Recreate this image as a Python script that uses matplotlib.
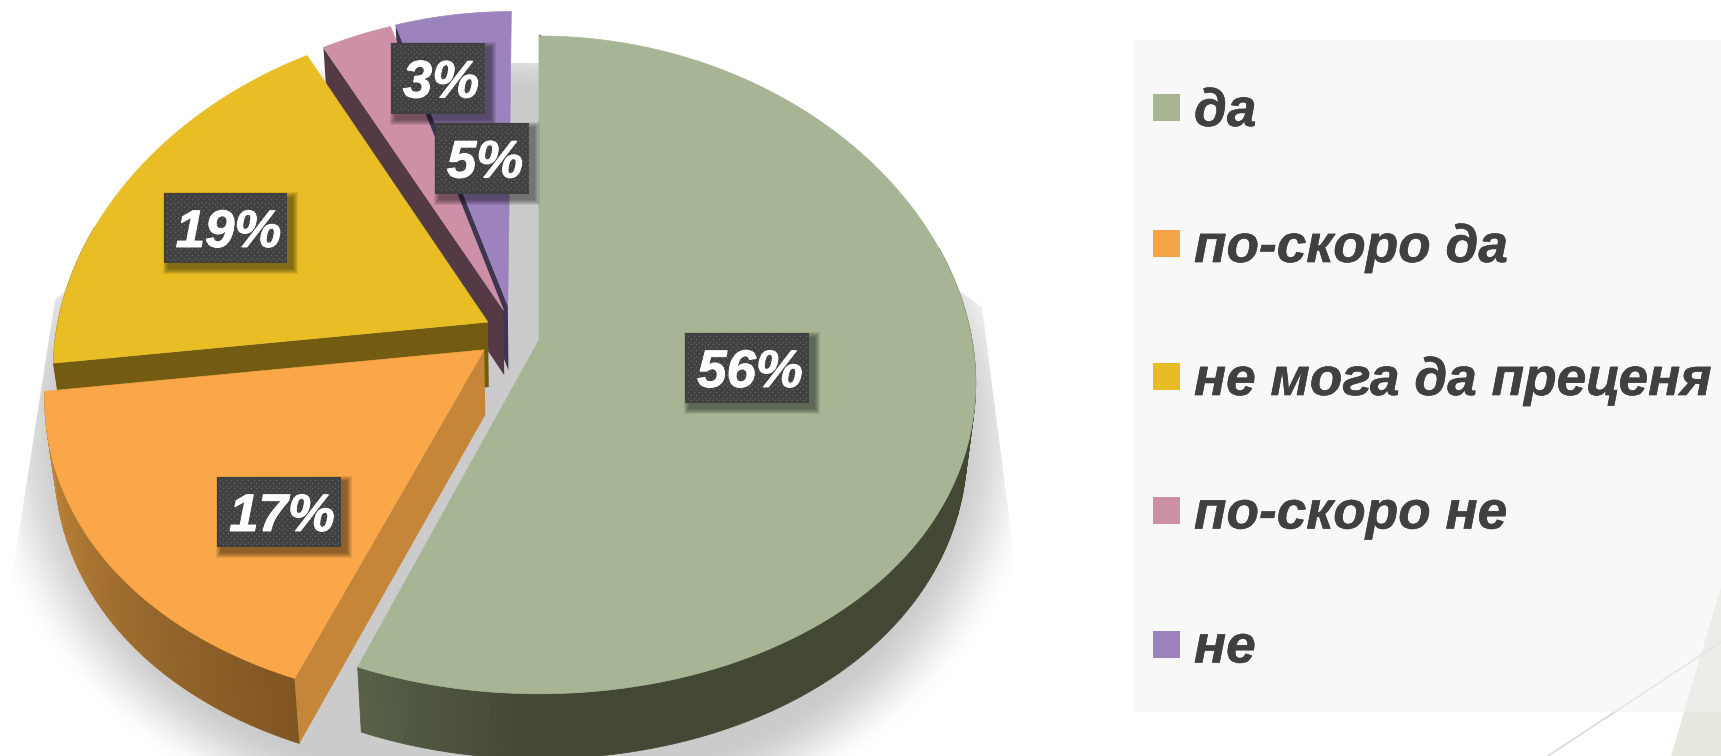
import matplotlib
matplotlib.use('Agg')
import matplotlib.pyplot as plt
import matplotlib.patheffects as pe
from matplotlib.colors import to_rgb
from matplotlib.patches import Polygon, Rectangle
import numpy as np

categories = ['да', 'по-скоро да', 'не мога да преценя', 'по-скоро не', 'не']
values = [56, 17, 19, 3, 5]

top_colors = ['#A7B595', '#F9A748', '#E9BE25', '#CE90A7', '#9D83BE']
legend_colors = ['#A7B592', '#F3A446', '#E8BC24', '#CC8FA5', '#9C82BD']
side_colors = ['#3F4433', '#C5863A', '#735C12', '#533A44', '#3E3550']
# wall colour goes from the wedge's first edge to its last edge
wall_stops = [
    ([0, 0.9, 1], ['#434835', '#434835', '#596149']),
    ([0, 1], ['#7F5522', '#C48A3C']),
    ([0, 1], ['#735C12', '#735C12']),
    ([0, 1], ['#533A44', '#533A44']),
    ([0, 1], ['#3E3550', '#3E3550']),
]
# how far each wedge is pulled out of the pie, and its size
explode = [(0, 0), (-0.126, -0.03), (-0.119, 0.055), (-0.083, 0.092), (-0.073, 0.107)]
radius = [1, 1, 1, 0.99, 0.98]
draw_order = [4, 3, 2, 1, 0]
# label boxes: left, top, right, bottom in pixels
label_boxes = [(685, 333, 809, 403), (217, 477, 341, 547), (164, 193, 287, 263),
               (391, 43, 485, 114), (435, 123, 529, 194)]
legend_y = [107.5, 243.5, 376.5, 510, 644]

W, H = 1721, 756
CX, CY = 539, 340
RX, RY = 433, 327
KX, KY = 0.13, 0.0757
DEPTH = 65
FONT = 'Liberation Sans'


def project(u, v):
    return CX + u * RX / (1 + KX * v), CY - v * RY / (1 + KY * v)


def drop(x, y):
    # the same point on the underside of the pie
    return CX + (x - CX) * 0.98, y + DEPTH


fig = plt.figure(figsize=(W / 100, H / 100), dpi=100, facecolor='white')
ax = fig.add_axes([0, 0, 1, 1])

# background decoration, bottom right
ax.fill([1721, 1671, 1721], [587, 756, 756], color='#E6E8E0', lw=0, zorder=1)
ax.plot([1721, 1548], [642, 756], color='#DADADA', lw=1.2, zorder=1)
ax.add_patch(Rectangle((1134, 40), W - 1134, 672, facecolor='#F3F3F3', alpha=0.5, lw=0, zorder=2))

# soft shadow under the pie, cut by a hard edged frame
yy, xx = np.mgrid[0:H, 0:1100]
r = np.hypot((xx - 510) / 510, (yy - 440) / 400)
fade = np.clip((1.05 - r) / 0.18, 0, 1)
fade = fade * fade * (3 - 2 * fade)
shadow = np.zeros((H, 1100, 4))
shadow[..., :3] = to_rgb('#CBCBCB')
shadow[..., 3] = fade
img = ax.imshow(shadow, extent=(0, 1100, H, 0), aspect='auto', zorder=3, interpolation='bilinear')
frame = Polygon([(330, 63), (640, 63), (982, 307), (1012, 540), (1012, H), (10, H), (10, 590), (55, 300)],
                transform=ax.transData, fc='none', lw=0)
ax.add_patch(frame)
img.set_clip_path(frame)

# wedges, clockwise from the top
edges = np.cumsum([0] + values) / sum(values) * 2 * np.pi
for z, i in enumerate(draw_order):
    a0, a1 = edges[i], edges[i + 1]
    du, dv = explode[i]
    ang = np.linspace(a0, a1, int(values[i] * 4) + 8)
    px, py = project(du + radius[i] * np.sin(ang), dv + radius[i] * np.cos(ang))
    ax_, ay_ = project(du, dv)
    zo = 4 + z

    # outer wall, strip by strip so it can carry a gradient
    st, cols = wall_stops[i]
    rgb = np.array([to_rgb(c) for c in cols])
    for k in range(len(ang) - 1):
        if np.cos(ang[k]) > 0.3:
            continue
        t = (ang[k] - a0) / (a1 - a0)
        c = [np.interp(t, st, rgb[:, n]) for n in range(3)]
        bx0, by0 = drop(px[k], py[k])
        bx1, by1 = drop(px[k + 1], py[k + 1])
        ax.fill([px[k], px[k + 1], bx1, bx0], [py[k], py[k + 1], by1, by0],
                fc=c, ec=c, lw=0.6, zorder=zo)

    # wall on the first straight edge
    if i == 0:
        ax.plot([px[0] + 1, ax_ + 1], [py[0], ay_], color=side_colors[i], lw=1.5, zorder=zo)
    else:
        bx0, by0 = drop(px[0], py[0])
        bx1, by1 = drop(ax_, ay_)
        ax.fill([ax_, px[0], bx0, bx1], [ay_, py[0], by0, by1], color=side_colors[i], lw=0, zorder=zo)

    # top surface
    ax.fill(np.r_[ax_, px], np.r_[ay_, py], fc=top_colors[i], ec=top_colors[i], lw=0.5, zorder=zo + 0.5)

# value labels on dotted dark boxes
for v, (x0, y0, x1, y1) in zip(values, label_boxes):
    for s in range(12, 0, -2):
        ax.add_patch(Rectangle((x0 + 5 - s / 2, y0 + 5 - s / 2), x1 - x0 + s, y1 - y0 + s,
                               fc='black', alpha=0.085, lw=0, zorder=20))
    ax.add_patch(Rectangle((x0, y0), x1 - x0, y1 - y0, fc='#404040', lw=0, zorder=21))
    dots_x, dots_y = [], []
    for row, dy in enumerate(np.arange(y0 + 3, y1 - 1, 2.8)):
        for dx in np.arange(x0 + 3 + (row % 2) * 2.8, x1 - 1, 5.6):
            dots_x.append(dx)
            dots_y.append(dy)
    ax.plot(dots_x, dots_y, ls='none', marker='s', ms=1.1, mew=0, color='#606060', zorder=22)
    ax.text((x0 + x1) / 2 + 3, (y0 + y1) / 2 + 5, f'{v}%', family=FONT, weight='bold', style='italic',
            fontsize=38, color='white', ha='center', va='center', zorder=23,
            path_effects=[pe.withStroke(linewidth=0.7, foreground='white')])

# legend
for name, col, y in zip(categories, legend_colors, legend_y):
    ax.add_patch(Rectangle((1153, y - 13.5), 27, 27, fc=col, lw=0, zorder=30))
    ax.text(1194, y - 1, name, family=FONT, weight='bold', style='italic', fontsize=38.3,
            color='#404040', ha='left', va='center_baseline', zorder=30,
            path_effects=[pe.withStroke(linewidth=0.4, foreground='#404040')])

ax.set_xlim(0, W)
ax.set_ylim(H, 0)
ax.axis('off')
fig.savefig('out.png', dpi=100, facecolor='white')
